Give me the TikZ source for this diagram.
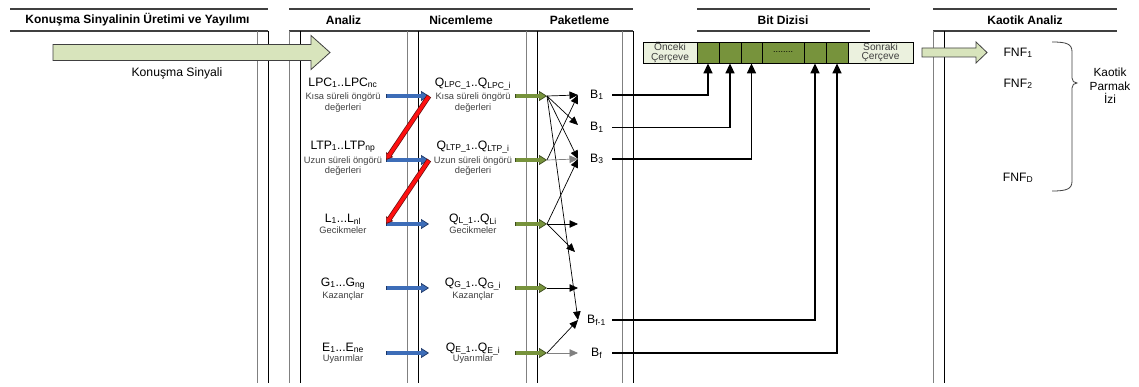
\documentclass[tikz,border=0pt]{standalone}
\usepackage{fontspec}
\setmainfont{Liberation Sans}
\usetikzlibrary{arrows.meta,calc}

\definecolor{blfill}{HTML}{3D6DB8}
\definecolor{blline}{HTML}{1C3666}
\definecolor{rdfill}{HTML}{FF1010}
\definecolor{rdline}{HTML}{6E1010}
\definecolor{grfill}{HTML}{77933C}
\definecolor{grline}{HTML}{3B4A1C}
\definecolor{palegreen}{HTML}{D8E4BC}
\definecolor{lightcell}{HTML}{EBF1DE}
\definecolor{rulecol}{HTML}{404040}
\definecolor{subtxt}{HTML}{404040}

\newcommand\sbs[1]{\textsubscript{#1}}
% thick outlined block arrow between two named points
% #1 fill, #2 outline, #3 from, #4 to, #5 shaft width, #6 head width, #7 head length
\newcommand\fatarrow[7]{%
  \draw[line width=#5pt, draw=#2,
        -{Triangle[length=#7pt,width=#6pt,line width=0.7pt 0,fill=#1]}] (#3) -- (#4);
  \draw[line width=#5pt-1.5pt, draw=#1, shorten <=0.75pt, shorten >=#7pt-0.8pt] (#3) -- (#4);
}

\begin{document}
\begin{tikzpicture}[x=1pt,y=-1pt,
  hdr/.style={font=\fontsize{12}{14}\selectfont\bfseries, inner sep=0},
  lbl/.style={font=\fontsize{12.2}{14}\selectfont, inner sep=0, text height=8.8pt, text depth=2.5pt},
  desc/.style={font=\fontsize{9.3}{10.8}\selectfont, text=subtxt, inner sep=0, align=center},
  hline/.style={draw=rulecol, line width=1.2pt},
  vgray/.style={draw=gray, line width=1pt},
  vblack/.style={draw=black, line width=1pt},
  cellbase/.style={draw=black, line width=0.8pt, minimum height=21pt, inner sep=0},
  gcell/.style={cellbase, fill=grfill},
  lcell/.style={cellbase, fill=lightcell, text=subtxt, align=center,
                font=\fontsize{10.2}{9.6}\selectfont},
  thin/.style={-{Triangle[length=8.5pt,width=7.5pt]}, line width=0.7pt},
  thingray/.style={thin, draw=gray},
  bus/.style={-{Triangle[length=10pt,width=9pt]}, line width=1.5pt},
  sigarrow/.style={draw=rulecol, fill=palegreen, line width=0.8pt, line join=miter},
]
\useasboundingbox (0,0) rectangle (1139,387);
\fill[white] (0,0) rectangle (1139,387);

% ---- column headers ----
\draw[hline] (10,9) -- (268,9) (10,31) -- (268,31);
\draw[hline] (289,9) -- (633,9) (289,31) -- (633,31);
\draw[hline] (697,9) -- (870,9) (697,31) -- (870,31);
\draw[hline] (933,9) -- (1117,9) (933,31) -- (1117,31);
\node[hdr] (h1) at (137.5,20) {Konuşma Sinyalinin Üretimi ve Yayılımı};
\node[hdr] (h2) at (343.5,20) {Analiz};
\node[hdr] (h3) at (461,20) {Nicemleme};
\node[hdr] (h4) at (579.5,20) {Paketleme};
\node[hdr] (h5) at (783,20) {Bit Dizisi};
\node[hdr] (h6) at (1025,20) {Kaotik Analiz};

% ---- swimlane separators ----
\foreach \x/\c in {257/vgray,268/vblack,289/vgray,300/vblack,407/vgray,418/vblack,
                   526/vgray,537/vblack,622/vgray,633/vblack,933/vgray,944/vblack}
  \draw[\c] (\x,31) -- (\x,383);

% ---- speech signal ----
\draw[sigarrow] (53,44.5) -- (311,44.5) -- (311,35.5) -- (330,52.5) -- (311,69.5)
  -- (311,60.5) -- (53,60.5) -- cycle;
\node[lbl] (sig) at (177,73) {Konuşma Sinyali};

% ---- analysis parameters ----
\node[lbl] (lpc) at (343,83) {LPC\sbs{1}..LPC\sbs{nc}};
\node[desc] (lpcd) at (343,102.5) {Kısa süreli öngörü\\değerleri};
\node[lbl] (ltp) at (343,146) {LTP\sbs{1}..LTP\sbs{np}};
\node[desc] (ltpd) at (343,166) {Uzun süreli öngörü\\değerleri};
\node[lbl] (lag) at (343,219) {L\sbs{1}...L\sbs{nl}};
\node[desc] (lagd) at (343,230) {Gecikmeler};
\node[lbl] (gain) at (343,283) {G\sbs{1}...G\sbs{ng}};
\node[desc] (gaind) at (343,296) {Kazançlar};
\node[lbl] (exc) at (343,348) {E\sbs{1}...E\sbs{ne}};
\node[desc] (excd) at (343,359) {Uyarımlar};

% ---- quantised parameters ----
\node[lbl] (qlpc) at (473,83) {Q\sbs{LPC\_1}..Q\sbs{LPC\_i}};
\node[desc] (qlpcd) at (473,102.5) {Kısa süreli öngörü\\değerleri};
\node[lbl] (qltp) at (473,146) {Q\sbs{LTP\_1}..Q\sbs{LTP\_i}};
\node[desc] (qltpd) at (473,166) {Uzun süreli öngörü\\değerleri};
\node[lbl] (qlag) at (473,219) {Q\sbs{L\_1}..Q\sbs{Li}};
\node[desc] (qlagd) at (473,230) {Gecikmeler};
\node[lbl] (qgain) at (473,283) {Q\sbs{G\_1}..Q\sbs{G\_i}};
\node[desc] (qgaind) at (473,296) {Kazançlar};
\node[lbl] (qexc) at (473,348) {Q\sbs{E\_1}..Q\sbs{E\_i}};
\node[desc] (qexcd) at (473,359) {Uyarımlar};

% ---- arrow end points per row ----
\foreach \i/\y in {1/96,2/160,3/224,4/288,5/353} {
  \coordinate (bs\i) at (386,\y);
  \coordinate (be\i) at (429,\y);
  \coordinate (gs\i) at (515,\y);
  \coordinate (ge\i) at (547,\y);
}
\foreach \i in {1,...,5} {\fatarrow{blfill}{blline}{bs\i}{be\i}{4.8}{10}{8}}
\foreach \i in {1,...,5} {\fatarrow{grfill}{grline}{gs\i}{ge\i}{4.8}{10}{8}}
\fatarrow{rdfill}{rdline}{be1}{bs2}{5}{8.5}{6.5}
\fatarrow{rdfill}{rdline}{be2}{bs3}{5}{8.5}{6.5}

% ---- packet slots ----
\node[lbl, anchor=west] (b1)  at (590,95)  {B\sbs{1}};
\node[lbl, anchor=west] (b1x) at (590,127.5) {B\sbs{1}};
\node[lbl, anchor=west] (b3)  at (590,159) {B\sbs{3}};
\node[lbl, anchor=west] (bf1) at (587,320) {B\sbs{f-1}};
\node[lbl, anchor=west] (bf)  at (591,353) {B\sbs{f}};

\coordinate (t1) at (578,95);
\coordinate (t2) at (578,125);
\coordinate (t3) at (578,159);
\coordinate (t4) at (578,224);
\coordinate (t5) at (575,252);
\coordinate (t6) at (578,288);
\coordinate (t7) at (578,320);
\coordinate (t8) at (578,353);

\draw[thin] (ge1) -- (t1);
\draw[thin] (ge1) -- (t2);
\draw[thin] (ge1) -- (t3);
\draw[thin] (ge1) -- (t7);
\draw[thin] (ge2) -- (t1);
\draw[thingray] (ge2) -- (t3);
\draw[thin] (ge3) -- (t3);
\draw[thin] (ge3) -- (t4);
\draw[thin] (ge3) -- (t5);
\draw[thin] (ge4) -- (t6);
\draw[thin] (ge5) -- (t7);
\draw[thingray] (ge5) -- (t8);

% ---- bit stream ----
\node[lcell, minimum width=54pt] (prev) at (670,52.5) {Önceki\\Çerçeve};
\node[gcell, minimum width=22pt] (c1) at (708,52.5) {};
\node[gcell, minimum width=22pt] (c2) at (730,52.5) {};
\node[gcell, minimum width=21pt] (c3) at (751.5,52.5) {};
\node[gcell, minimum width=42pt, font=\fontsize{9}{9}\selectfont] (cd) at (783,52.5) {........};
\node[gcell, minimum width=22pt] (c5) at (815,52.5) {};
\node[gcell, minimum width=22pt] (c6) at (837,52.5) {};
\node[lcell, minimum width=65pt] (next) at (880.5,52.5) {Sonraki\\Çerçeve};

\coordinate (busx) at (612,0);
\draw[bus] (b1.east -| busx) -| (c1.south);
\draw[bus] (b1x.east -| busx) -| (c2.south);
\draw[bus] (b3.east -| busx) -| (c3.south);
\draw[bus] (bf1.east -| busx) -| (c5.south);
\draw[bus] (bf.east -| busx) -| (c6.south);

% ---- chaotic analysis ----
\draw[sigarrow] (922,48) -- (976,48) -- (976,42) -- (987,52.5) -- (976,63)
  -- (976,57) -- (922,57) -- cycle;
\node[lbl] (fnf1) at (1018,53) {FNF\sbs{1}};
\node[lbl] (fnf2) at (1018,84) {FNF\sbs{2}};
\node[lbl] (fnfd) at (1018,178) {FNF\sbs{D}};
\draw[line width=0.8pt, rulecol]
  (1052,42) .. controls (1067,42) and (1072,44) .. (1072,52) -- (1072,78)
  .. controls (1072,81) and (1074,83) .. (1077,83)
  .. controls (1074,83) and (1072,85) .. (1072,88) -- (1072,181)
  .. controls (1072,189) and (1067,191) .. (1052,191);
\node[font=\fontsize{11.8}{13.5}\selectfont, align=center, inner sep=0] (kpi) at (1110,86)
  {Kaotik\\Parmak\\İzi};
\end{tikzpicture}
\end{document}
